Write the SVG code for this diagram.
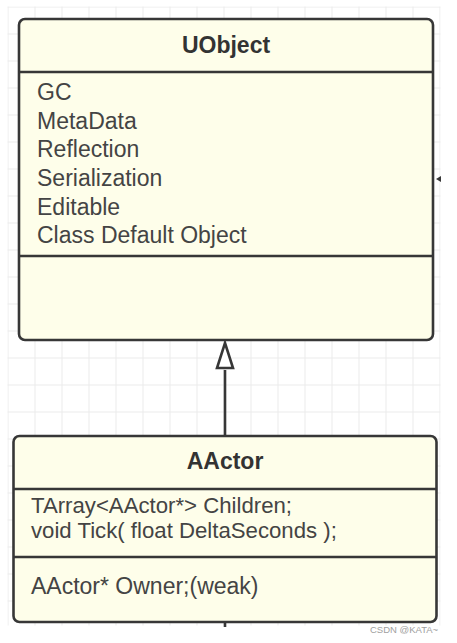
<svg xmlns="http://www.w3.org/2000/svg" width="457" height="643" viewBox="0 0 457 643">
<style>
.box{fill:#fefeea;stroke:#373737;stroke-width:2.6}
.div{stroke:#373737;stroke-width:2.6;fill:none}
.title{font-family:"Liberation Sans",Arial,sans-serif;font-weight:bold;font-size:23px;fill:#333;text-anchor:middle}
.attr{font-family:"Liberation Sans",Arial,sans-serif;font-size:23px;fill:#444}
.attr2{font-family:"Liberation Sans",Arial,sans-serif;font-size:22.2px;fill:#444}
.edge{stroke:#373737;stroke-width:2.6;fill:none}
.wm{font-family:"Liberation Sans",Arial,sans-serif;font-size:9.5px;fill:#a0a0a0}
</style>
<defs>
<pattern id="grid" patternUnits="userSpaceOnUse" x="7.5" y="6.5" width="27" height="27">
<path d="M0 0.5H27M0.5 0V27" stroke="#ebebeb" stroke-width="1" fill="none"/>
</pattern>
</defs>
<rect x="0" y="0" width="457" height="643" fill="#fff"/>
<rect x="7.5" y="6.5" width="433" height="619" fill="url(#grid)"/>
<g id="connectors">
<line class="edge" x1="225" y1="436" x2="225" y2="370"/>
<path d="M225 343L233 368H217Z" fill="#fff" stroke="#373737" stroke-width="2.6"/>
<line class="edge" x1="225" y1="622" x2="225" y2="627"/>
<path d="M436 179L441 176V182Z" fill="#373737"/>
</g>
<g id="UObject">
<rect class="box" x="19" y="19" width="414" height="321" rx="6"/>
<line class="div" x1="19" y1="72" x2="433" y2="72"/>
<line class="div" x1="19" y1="256" x2="433" y2="256"/>
<text class="title" x="226" y="53">UObject</text>
<text class="attr" x="37" y="100">GC</text>
<text class="attr" x="37" y="128.7">MetaData</text>
<text class="attr" x="37" y="157.3">Reflection</text>
<text class="attr" x="37" y="186">Serialization</text>
<text class="attr" x="37" y="214.7">Editable</text>
<text class="attr" x="37" y="243.3">Class Default Object</text>
</g>
<g id="AActor">
<rect class="box" x="13.5" y="436" width="423" height="186" rx="6"/>
<line class="div" x1="13.5" y1="489" x2="436.5" y2="489"/>
<line class="div" x1="13.5" y1="557" x2="436.5" y2="557"/>
<text class="title" x="225" y="468.5">AActor</text>
<text class="attr2" x="31" y="512.5">TArray&lt;AActor*&gt; Children;</text>
<text class="attr2" x="31" y="538">void Tick( float DeltaSeconds );</text>
<text class="attr" x="31" y="594">AActor* Owner;(weak)</text>
</g>
<text class="wm" x="370" y="633">CSDN @KATA~</text>
</svg>
